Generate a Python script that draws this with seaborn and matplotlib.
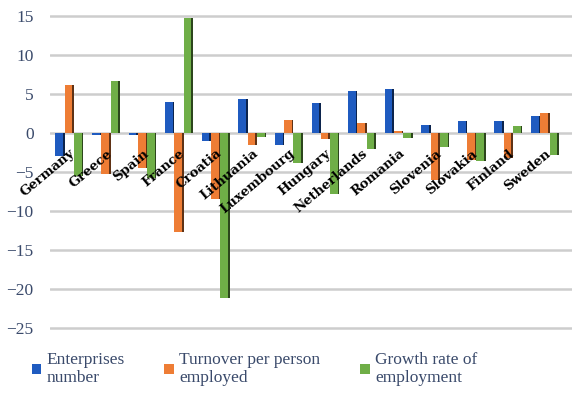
import matplotlib
matplotlib.use("Agg")
import matplotlib.pyplot as plt
import seaborn as sns
import pandas as pd
from matplotlib.patches import Rectangle
from matplotlib.colors import to_rgb

countries = ["Germany", "Greece", "Spain", "France", "Croatia", "Lithuania",
             "Luxembourg", "Hungary", "Netherlands", "Romania", "Slovenia",
             "Slovakia", "Finland", "Sweden"]
enterprises = [-3.0, -0.3, -0.2, 4.0, -1.0, 4.3, -1.5, 3.8, 5.4, 5.7, 1.0, 1.5, 1.5, 2.2]
turnover = [6.2, -5.3, -4.5, -12.7, -8.5, -1.5, 1.7, -0.8, 1.3, 0.2, -6.0, -3.5, -3.2, 2.5]
growth = [-5.5, 6.7, -5.8, 14.8, -21.2, -0.5, -3.8, -7.8, -2.0, -0.7, -1.8, -3.6, 0.9, -2.8]
series_names = ["Enterprises\nnumber", "Turnover per person\nemployed", "Growth rate of\nemployment"]
colors = ["#1F5BC0", "#EE7D35", "#6FAE47"]
y_ticks = [15, 10, 5, 0, -5, -10, -15, -20, -25]

df = pd.DataFrame({
    "country": countries * 3,
    "series": sum([[s] * len(countries) for s in series_names], []),
    "value": enterprises + turnover + growth,
})

sns.set_theme(style="white")
plt.rcParams["font.family"] = ["Liberation Serif", "DejaVu Serif"]

fig = plt.figure(figsize=(5.72, 3.93), dpi=100)
ax = fig.add_axes([0.088, 0.16, 0.912, 0.805])

sns.barplot(data=df, x="country", y="value", hue="series", order=countries,
            hue_order=series_names, palette=colors, width=0.76, saturation=1,
            linewidth=0, edgecolor="none", ax=ax, zorder=3, legend=True)

# darker side face on the right of each bar for a raised look
for p in list(ax.patches):
    h = p.get_height()
    if h == 0 and p.get_width() == 0:
        continue
    r, g, b = to_rgb(p.get_facecolor())
    side = 0.17 * p.get_width()
    ax.add_patch(Rectangle((p.get_x() + p.get_width() - side, p.get_y()), side, h,
                           facecolor=(r * 0.4, g * 0.4, b * 0.4), edgecolor="none",
                           zorder=4))

ax.set_ylim(-25.3, 15.3)
ax.set_xlim(-0.52, len(countries) - 0.26)
ax.set_yticks(y_ticks)
ax.set_yticklabels([str(t).replace("-", "\u2212") for t in y_ticks],
                   fontsize=12.5, color="#3A4A6B")
ax.yaxis.grid(True, color="#CDCDCD", linewidth=1.8, zorder=0)
ax.xaxis.grid(False)
ax.set_xticks([])
ax.set_xlabel("")
ax.set_ylabel("")
ax.tick_params(axis="y", length=0, pad=12)
for s in ax.spines.values():
    s.set_visible(False)

# country names placed at the zero line
for i, c in enumerate(countries):
    ax.annotate(c, xy=(i, 0), xytext=(0, -10), textcoords="offset points",
                rotation=40, rotation_mode="anchor", ha="right", va="top",
                fontsize=9.5, fontweight="heavy", color="black",
                family=["DejaVu Serif"], zorder=6)

handles, labels = ax.get_legend_handles_labels()
ax.legend(handles, labels, loc="upper left", bbox_to_anchor=(-0.066, -0.02),
          ncol=3, frameon=False, fontsize=12.5, handlelength=0.55, handleheight=0.55,
          handletextpad=0.3, columnspacing=2.3, labelcolor="#3A4A6B",
          labelspacing=0.2)

fig.savefig("out.png", dpi=100)
